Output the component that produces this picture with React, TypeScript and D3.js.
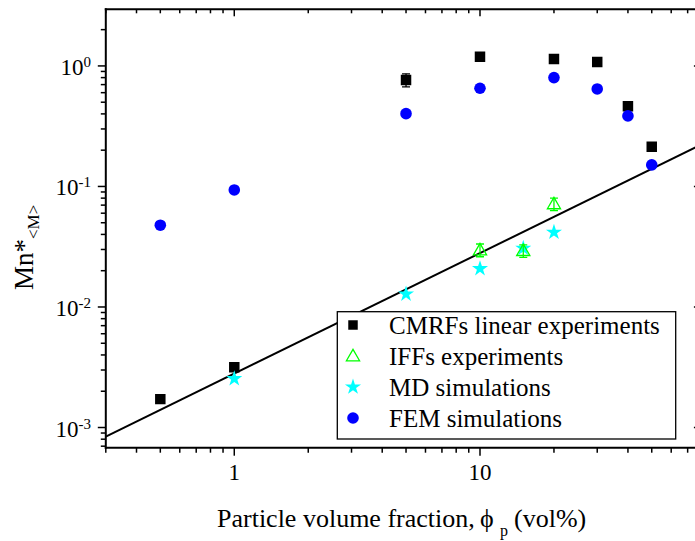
import React from "react";
import * as d3 from "d3";

const xDomain = [0.3, 80];
const yDomain = [6.8e-4, 2.95];
const cmrfX = [0.5, 1, 5, 10, 20, 30, 40, 50];
const cmrfY = [1.72e-3, 3.16e-3, 0.765, 1.19, 1.14, 1.08, 0.463, 0.214];
const cmrfErr = [0, 0, 0.095, 0, 0, 0, 0, 0];
const iffX = [10, 15, 20];
const iffY = [0.0297, 0.0293, 0.0716];
const iffErr = [0.0036, 0.0035, 0.0085];
const mdX = [1, 5, 10, 15, 20];
const mdY = [2.54e-3, 0.0128, 0.0208, 0.0307, 0.0417];
const femX = [0.5, 1, 5, 10, 20, 30, 40, 50];
const femY = [0.0477, 0.0935, 0.402, 0.653, 0.8, 0.644, 0.385, 0.151];
const fitX = [0.3, 80];
const fitY = [8.4e-4, 0.224];
const xTickValues = [1, 10];
const xTickLabels = ["1", "10"];
const yTickValues = [1e-3, 1e-2, 1e-1, 1];
const yTickExps = ["-3", "-2", "-1", "0"];
const legendNames = ["CMRFs linear experiments", "IFFs experiments", "MD simulations", "FEM simulations"];

const W = 695;
const H = 541;
const L = 105.8;
const R = 701.9;
const T = 9.3;
const B = 447.7;
const FONT = "'Liberation Serif', 'Times New Roman', serif";

export default function App() {
  const x = d3.scaleLog().domain(xDomain).range([L, R]);
  const y = d3.scaleLog().domain(yDomain).range([B, T]);

  const xAll = x.ticks().filter((v) => v >= xDomain[0] && v <= xDomain[1]);
  const yAll = y.ticks().filter((v) => v >= yDomain[0] && v <= yDomain[1]);
  const isMajor = (v: number) => Math.abs(Math.log10(v) - Math.round(Math.log10(v))) < 1e-9;

  const sq = d3.symbol().type(d3.symbolSquare).size(110)()!;
  const sqLeg = d3.symbol().type(d3.symbolSquare).size(90)()!;
  const star = d3.symbol().type(d3.symbolStar).size(80)()!;
  const tri = d3.symbol().type(d3.symbolTriangle).size(75)()!;
  const line = d3
    .line<number>()
    .x((_, i) => x(fitX[i]))
    .y((d) => y(d));

  const errBar = (cx: number, v: number, e: number, color: string, key: string) => {
    const y1 = y(v - e);
    const y2 = y(v + e);
    return (
      <g key={key} stroke={color} strokeWidth={1.3}>
        <line x1={cx} x2={cx} y1={y1} y2={y2} />
        <line x1={cx - 4} x2={cx + 4} y1={y1} y2={y1} />
        <line x1={cx - 4} x2={cx + 4} y1={y2} y2={y2} />
      </g>
    );
  };

  const legX = 337.3;
  const legY = 311.7;
  const legW = 338.4;
  const legH = 127.3;
  const rowY = (i: number) => 325 + i * 31;

  return (
    <div style={{ position: "fixed", left: 0, top: 0, width: W, height: H, overflow: "hidden", background: "#fff" }}>
      <svg width={W} height={H} style={{ display: "block" }} fontFamily={FONT}>
        <defs>
          <clipPath id="plotclip">
            <rect x={L} y={T} width={R - L} height={B - T} />
          </clipPath>
        </defs>
        {/* data */}
        <g clipPath="url(#plotclip)">
          <path d={line(fitY) || ""} fill="none" stroke="#000" strokeWidth={2} />
          {cmrfX.map((v, i) =>
            cmrfErr[i] > 0 ? errBar(x(v), cmrfY[i], cmrfErr[i], "#000", "ce" + i) : null
          )}
          {cmrfX.map((v, i) => (
            <path key={"c" + i} d={sq} transform={`translate(${x(v)},${y(cmrfY[i])})`} fill="#000" />
          ))}
          {femX.map((v, i) => (
            <circle key={"f" + i} cx={x(v)} cy={y(femY[i])} r={5.8} fill="#0000ff" />
          ))}
          {mdX.map((v, i) => (
            <path key={"m" + i} d={star} transform={`translate(${x(v)},${y(mdY[i])})`} fill="#00ffff" />
          ))}
          {iffX.map((v, i) => errBar(x(v), iffY[i], iffErr[i], "#00ff00", "ie" + i))}
          {iffX.map((v, i) => (
            <path
              key={"t" + i}
              d={tri}
              transform={`translate(${x(v)},${y(iffY[i]) + 1})`}
              fill="none"
              stroke="#00ff00"
              strokeWidth={1.3}
            />
          ))}
        </g>

        {/* axes frame */}
        <g stroke="#000" strokeWidth={2} fill="none">
          <line x1={L} x2={L} y1={T - 1} y2={B + 1} />
          <line x1={R} x2={R} y1={T - 1} y2={B + 1} />
          <line x1={L - 1} x2={R + 1} y1={T} y2={T} />
          <line x1={L - 1} x2={R + 1} y1={B} y2={B} />
        </g>
        {/* ticks */}
        <g stroke="#000" strokeWidth={1.5}>
          {xAll.map((v, i) => {
            const len = isMajor(v) ? 8 : 5;
            return (
              <g key={"xt" + i}>
                <line x1={x(v)} x2={x(v)} y1={B} y2={B + len} />
                <line x1={x(v)} x2={x(v)} y1={T} y2={T + len - 1} />
              </g>
            );
          })}
          {yAll.map((v, i) => {
            const len = isMajor(v) ? 8 : 5;
            return (
              <g key={"yt" + i}>
                <line x1={L} x2={L - len} y1={y(v)} y2={y(v)} />
                <line x1={R} x2={R - len} y1={y(v)} y2={y(v)} />
              </g>
            );
          })}
        </g>
        {/* tick labels */}
        {xTickValues.map((v, i) => (
          <text key={"xl" + i} x={x(v)} y={480} textAnchor="middle" fontSize={23} fill="#000">
            {xTickLabels[i]}
          </text>
        ))}
        {yTickValues.map((v, i) => (
          <text key={"yl" + i} x={91} y={y(v) + 9} textAnchor="end" fontSize={23} fill="#000">
            <tspan>10</tspan>
            <tspan dy={-8} fontSize={15}>
              {yTickExps[i]}
            </tspan>
          </text>
        ))}
        {/* axis titles */}
        <text transform="translate(33,290) rotate(-90)" fontSize={27} fill="#000">
          <tspan>Mn*</tspan>
          <tspan dy={6} fontSize={17}>
            {"<M>"}
          </tspan>
        </text>
        <text x={217} y={527} fontSize={26} fill="#000">
          <tspan>Particle volume fraction,</tspan>
          <tspan x={480}>ϕ</tspan>
          <tspan x={500} dy={9} fontSize={16}>
            p
          </tspan>
          <tspan x={514} dy={-9}>(vol%)</tspan>
        </text>

        {/* legend */}
        <rect x={legX} y={legY} width={legW} height={legH} fill="#fff" stroke="#000" strokeWidth={1.3} />
        <path d={sqLeg} transform={`translate(353,${rowY(0)})`} fill="#000" />
        <path d={tri} transform={`translate(353,${rowY(1) + 1})`} fill="none" stroke="#00ff00" strokeWidth={1.3} />
        <path d={star} transform={`translate(353,${rowY(2)})`} fill="#00ffff" />
        <circle cx={353} cy={rowY(3)} r={5.8} fill="#0000ff" />
        {legendNames.map((n, i) => (
          <text key={"ln" + i} x={389} y={rowY(i) + 8.5} fontSize={25} fill="#000">
            {n}
          </text>
        ))}
      </svg>
    </div>
  );
}
